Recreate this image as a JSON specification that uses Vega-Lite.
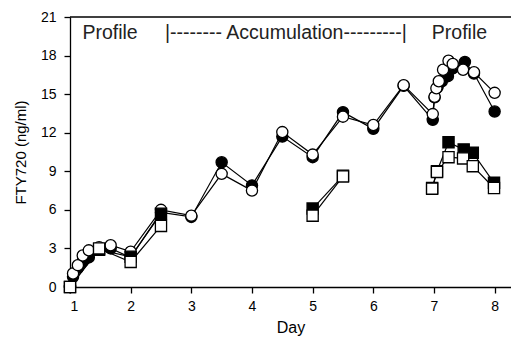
{
  "$schema": "https://vega.github.io/schema/vega-lite/v6.json",
  "width": 441,
  "height": 270,
  "autosize": {"type": "none"},
  "padding": {"left": 70, "top": 17, "right": 0, "bottom": 56},
  "config": {
    "view": {"stroke": null},
    "font": "Liberation Sans",
    "axis": {
      "domainColor": "black", "tickColor": "black", "labelColor": "black", "titleColor": "black",
      "domainWidth": 1.3, "tickWidth": 1.3, "grid": false, "labelFont": "Liberation Sans",
      "titleFont": "Liberation Sans", "titleFontWeight": "normal", "labelFontSize": 14, "titleFontSize": 15,
      "tickSize": 6, "labelOverlap": false
    }
  },
  "datasets": {
    "pk": [
      {"series": "fc", "seg": 1, "day": 1.0, "conc": 0},
      {"series": "fc", "seg": 1, "day": 1.05, "conc": 0.8},
      {"series": "fc", "seg": 1, "day": 1.13, "conc": 1.5},
      {"series": "fc", "seg": 1, "day": 1.21, "conc": 2.0},
      {"series": "fc", "seg": 1, "day": 1.31, "conc": 2.3},
      {"series": "fc", "seg": 1, "day": 1.48, "conc": 2.9},
      {"series": "fc", "seg": 1, "day": 1.67, "conc": 3.0},
      {"series": "fc", "seg": 1, "day": 2.0, "conc": 2.3},
      {"series": "fc", "seg": 1, "day": 2.5, "conc": 5.8},
      {"series": "fc", "seg": 1, "day": 3.0, "conc": 5.45},
      {"series": "fc", "seg": 1, "day": 3.5, "conc": 9.7},
      {"series": "fc", "seg": 1, "day": 4.0, "conc": 7.9},
      {"series": "fc", "seg": 1, "day": 4.5, "conc": 11.7},
      {"series": "fc", "seg": 1, "day": 5.0, "conc": 10.1},
      {"series": "fc", "seg": 1, "day": 5.5, "conc": 13.6},
      {"series": "fc", "seg": 1, "day": 6.0, "conc": 12.3},
      {"series": "fc", "seg": 1, "day": 6.5, "conc": 15.65},
      {"series": "fc", "seg": 1, "day": 6.98, "conc": 13.0},
      {"series": "fc", "seg": 1, "day": 7.01, "conc": 14.75},
      {"series": "fc", "seg": 1, "day": 7.06, "conc": 15.55},
      {"series": "fc", "seg": 1, "day": 7.13, "conc": 16.0},
      {"series": "fc", "seg": 1, "day": 7.23, "conc": 16.4},
      {"series": "fc", "seg": 1, "day": 7.31, "conc": 17.0},
      {"series": "fc", "seg": 1, "day": 7.51, "conc": 17.5},
      {"series": "fc", "seg": 1, "day": 7.66, "conc": 16.6},
      {"series": "fc", "seg": 1, "day": 8.0, "conc": 13.65},
      {"series": "oc", "seg": 1, "day": 1.0, "conc": 0},
      {"series": "oc", "seg": 1, "day": 1.05, "conc": 1.05},
      {"series": "oc", "seg": 1, "day": 1.13, "conc": 1.7},
      {"series": "oc", "seg": 1, "day": 1.21, "conc": 2.45},
      {"series": "oc", "seg": 1, "day": 1.31, "conc": 2.85},
      {"series": "oc", "seg": 1, "day": 1.48, "conc": 3.1},
      {"series": "oc", "seg": 1, "day": 1.67, "conc": 3.25},
      {"series": "oc", "seg": 1, "day": 2.0, "conc": 2.75},
      {"series": "oc", "seg": 1, "day": 2.5, "conc": 6.0},
      {"series": "oc", "seg": 1, "day": 3.0, "conc": 5.55},
      {"series": "oc", "seg": 1, "day": 3.5, "conc": 8.8},
      {"series": "oc", "seg": 1, "day": 4.0, "conc": 7.5},
      {"series": "oc", "seg": 1, "day": 4.5, "conc": 12.05},
      {"series": "oc", "seg": 1, "day": 5.0, "conc": 10.3},
      {"series": "oc", "seg": 1, "day": 5.5, "conc": 13.25},
      {"series": "oc", "seg": 1, "day": 6.0, "conc": 12.6},
      {"series": "oc", "seg": 1, "day": 6.5, "conc": 15.7},
      {"series": "oc", "seg": 1, "day": 6.98, "conc": 13.45},
      {"series": "oc", "seg": 1, "day": 7.01, "conc": 14.8},
      {"series": "oc", "seg": 1, "day": 7.04, "conc": 15.45},
      {"series": "oc", "seg": 1, "day": 7.08, "conc": 16.0},
      {"series": "oc", "seg": 1, "day": 7.15, "conc": 16.9},
      {"series": "oc", "seg": 1, "day": 7.24, "conc": 17.6},
      {"series": "oc", "seg": 1, "day": 7.31, "conc": 17.35},
      {"series": "oc", "seg": 1, "day": 7.48, "conc": 16.9},
      {"series": "oc", "seg": 1, "day": 7.66, "conc": 16.7},
      {"series": "oc", "seg": 1, "day": 8.0, "conc": 15.1},
      {"series": "fs", "seg": 1, "day": 1.0, "conc": 0},
      {"series": "fs", "seg": 1, "day": 1.48, "conc": 2.9},
      {"series": "fs", "seg": 1, "day": 2.0, "conc": 2.35},
      {"series": "fs", "seg": 1, "day": 2.5, "conc": 5.7},
      {"series": "fs", "seg": 2, "day": 5.0, "conc": 6.1},
      {"series": "fs", "seg": 2, "day": 5.5, "conc": 8.65},
      {"series": "fs", "seg": 3, "day": 6.97, "conc": 7.7},
      {"series": "fs", "seg": 3, "day": 7.05, "conc": 9.0},
      {"series": "fs", "seg": 3, "day": 7.24, "conc": 11.25},
      {"series": "fs", "seg": 3, "day": 7.49, "conc": 10.7},
      {"series": "fs", "seg": 3, "day": 7.64, "conc": 10.45},
      {"series": "fs", "seg": 3, "day": 7.99, "conc": 8.1},
      {"series": "os", "seg": 1, "day": 1.0, "conc": 0},
      {"series": "os", "seg": 1, "day": 1.48, "conc": 3.0},
      {"series": "os", "seg": 1, "day": 2.0, "conc": 1.95},
      {"series": "os", "seg": 1, "day": 2.5, "conc": 4.75},
      {"series": "os", "seg": 2, "day": 5.0, "conc": 5.55},
      {"series": "os", "seg": 2, "day": 5.5, "conc": 8.6},
      {"series": "os", "seg": 3, "day": 6.97, "conc": 7.65},
      {"series": "os", "seg": 3, "day": 7.05, "conc": 8.95},
      {"series": "os", "seg": 3, "day": 7.24, "conc": 10.1},
      {"series": "os", "seg": 3, "day": 7.48, "conc": 10.0},
      {"series": "os", "seg": 3, "day": 7.64, "conc": 9.4},
      {"series": "os", "seg": 3, "day": 7.99, "conc": 7.7}
    ],
    "notes": [
      {"label": "Profile", "day": 1.66},
      {"label": "|-------- Accumulation---------|", "day": 4.56},
      {"label": "Profile", "day": 7.42}
    ]
  },
  "layer": [
    {
      "data": {"name": "pk"},
      "mark": {"type": "line", "color": "black", "strokeWidth": 1.2},
      "encoding": {
        "x": {"field": "day", "type": "quantitative", "scale": {"domain": [1, 8.27], "nice": false, "zero": false},
              "axis": {"title": "Day", "values": [1, 2, 3, 4, 5, 6, 7, 8], "tickCount": 12, "format": "d", "labelPadding": 6, "titlePadding": 6, "titleFontSize": 16}},
        "y": {"field": "conc", "type": "quantitative", "scale": {"domain": [0, 21], "nice": false},
              "axis": {"title": "FTY720 (ng/ml)", "values": [0, 3, 6, 9, 12, 15, 18, 21], "tickCount": 10, "labelPadding": 8, "titlePadding": 12}},
        "detail": [{"field": "series"}, {"field": "seg"}]
      }
    },
    {
      "data": {"name": "pk"},
      "mark": {"type": "point", "filled": true, "stroke": "black", "strokeWidth": 1.3, "opacity": 1},
      "encoding": {
        "x": {"field": "day", "type": "quantitative"},
        "y": {"field": "conc", "type": "quantitative"},
        "shape": {"field": "series", "type": "nominal", "scale": {"domain": ["fc", "oc", "fs", "os"], "range": ["circle", "circle", "square", "square"]}, "legend": null},
        "fill": {"field": "series", "type": "nominal", "scale": {"domain": ["fc", "oc", "fs", "os"], "range": ["black", "white", "black", "white"]}, "legend": null},
        "size": {"field": "series", "type": "nominal", "scale": {"domain": ["fc", "oc", "fs", "os"], "range": [125, 125, 125, 125]}, "legend": null}
      }
    },
    {
      "data": {"name": "notes"},
      "mark": {"type": "text", "fontSize": 19.5, "color": "#222", "baseline": "middle", "align": "center"},
      "encoding": {
        "x": {"field": "day", "type": "quantitative"},
        "y": {"datum": 19.75, "type": "quantitative"},
        "text": {"field": "label"}
      }
    },
    {
      "data": {"values": [{"top": 21, "from": 1, "to": 8.27}]},
      "mark": {"type": "rule", "color": "black", "strokeWidth": 1.3},
      "encoding": {
        "x": {"field": "from", "type": "quantitative"},
        "x2": {"field": "to"},
        "y": {"field": "top", "type": "quantitative"}
      }
    }
  ]
}
